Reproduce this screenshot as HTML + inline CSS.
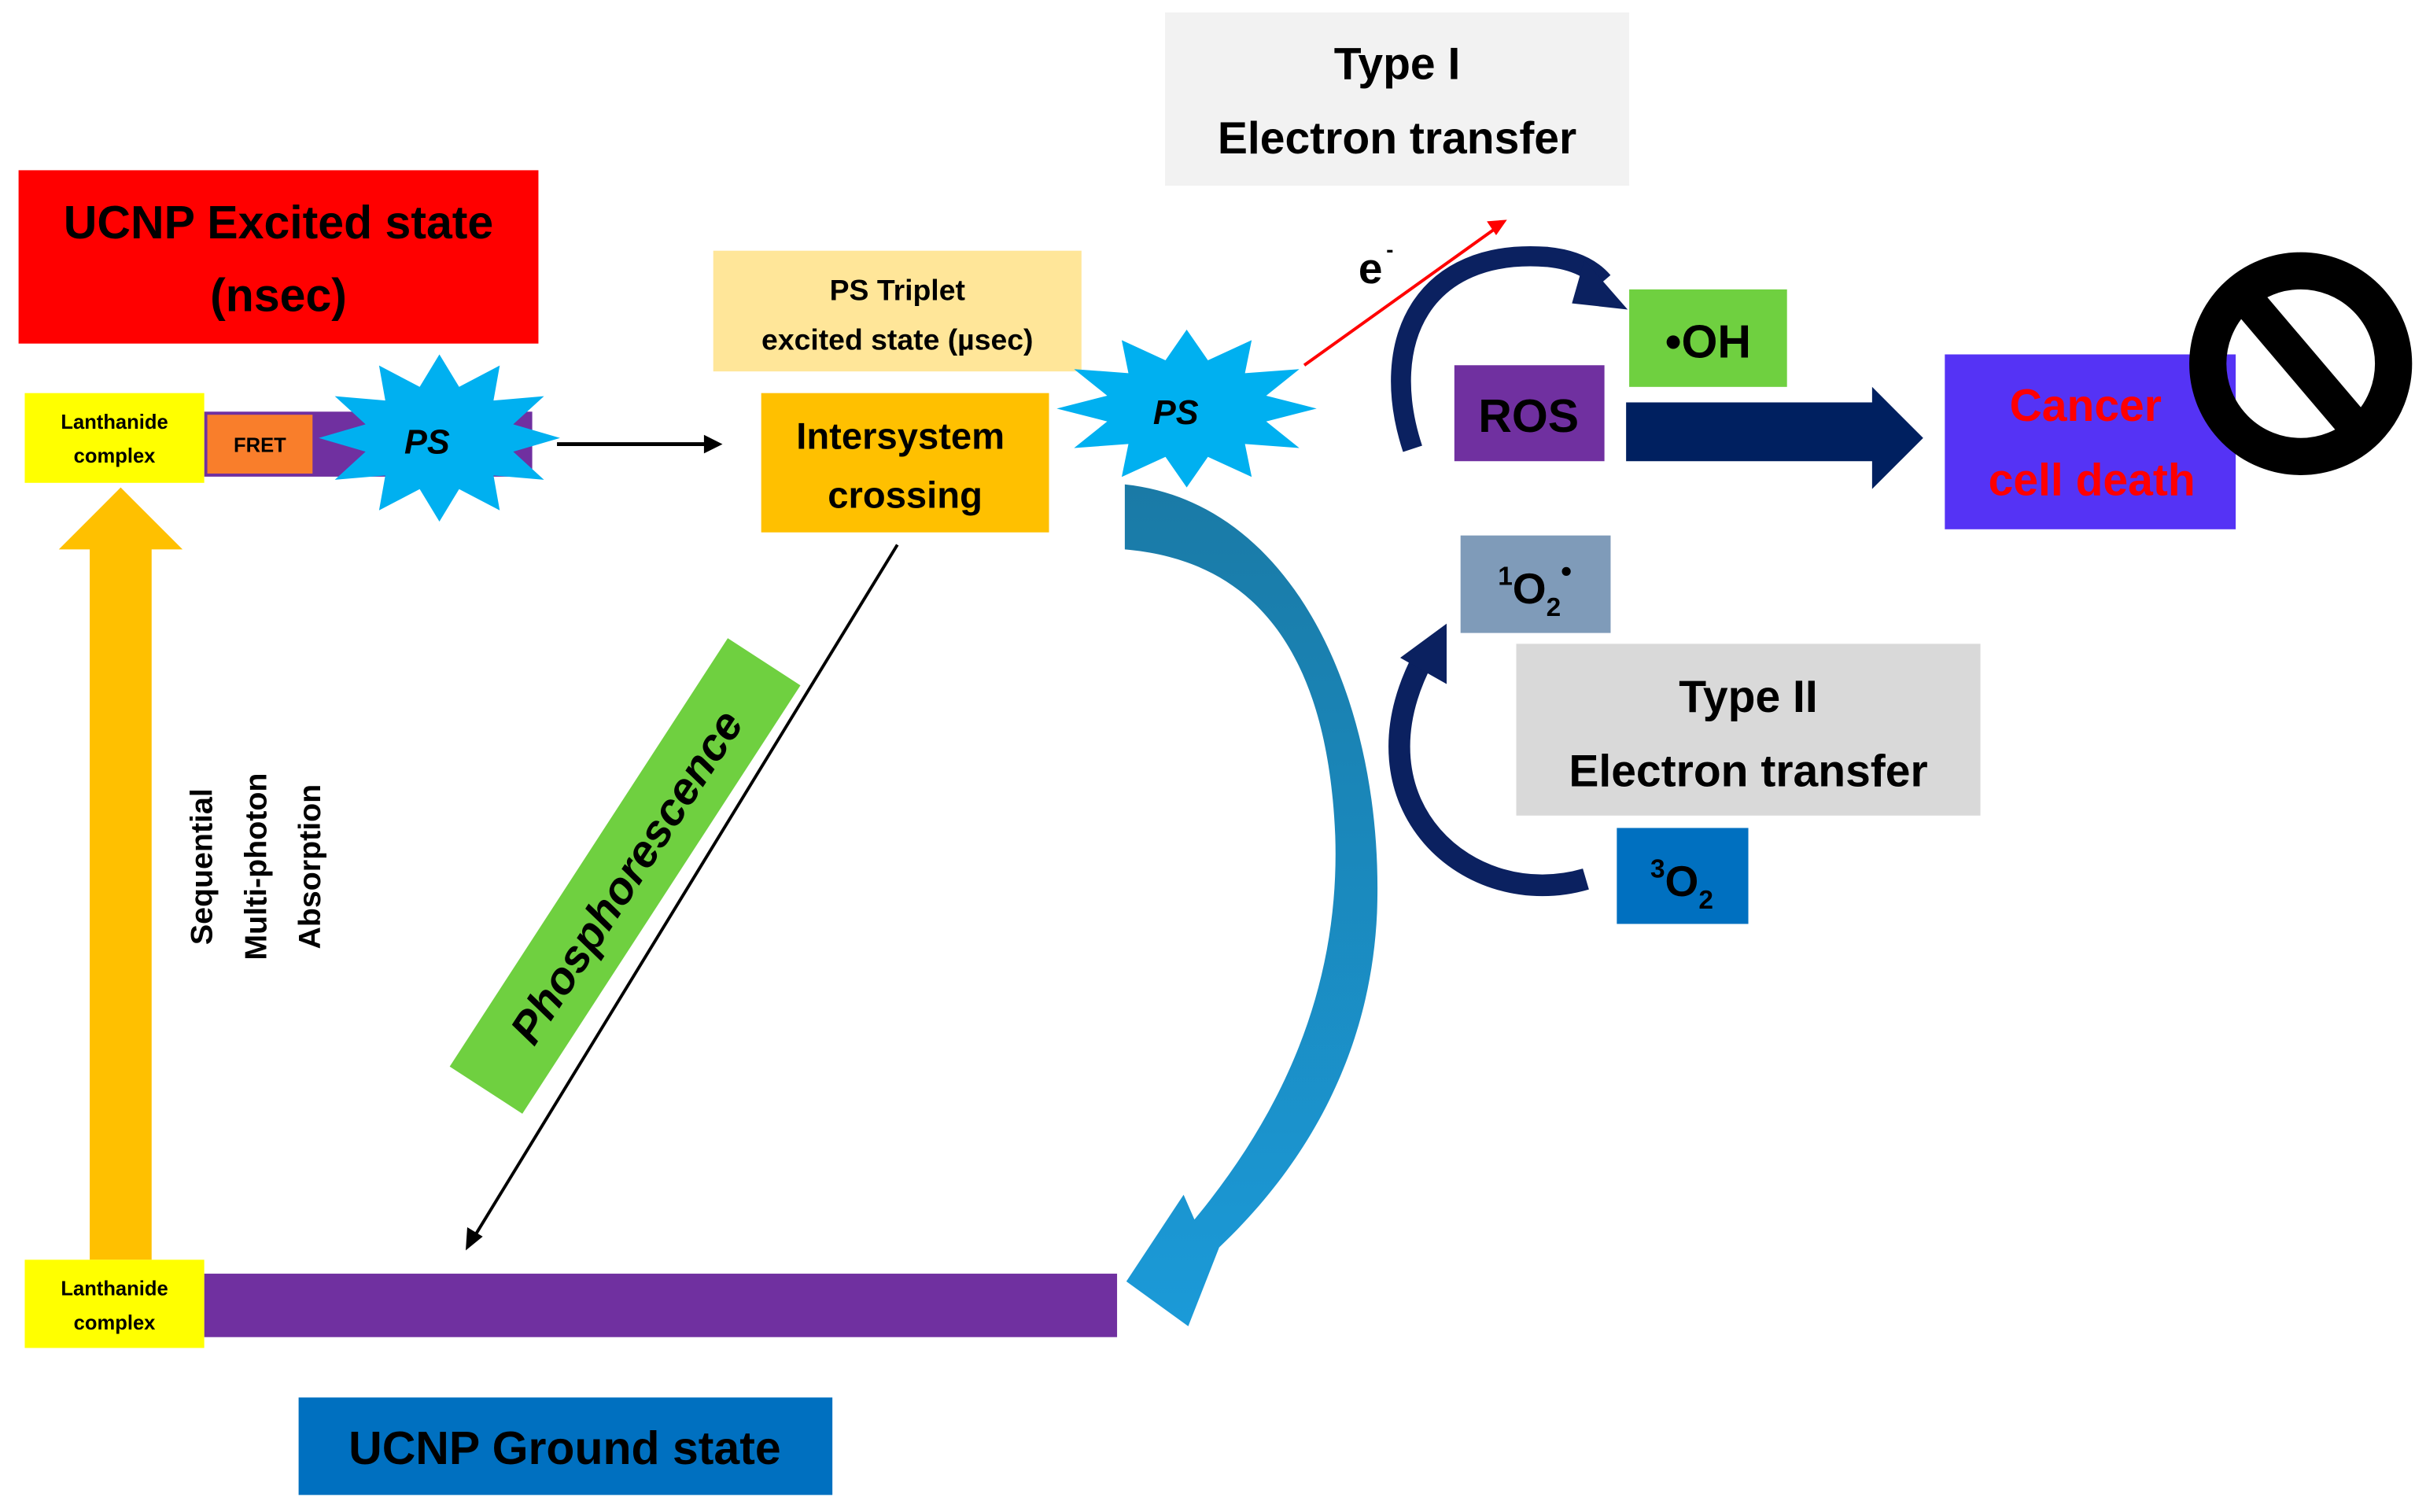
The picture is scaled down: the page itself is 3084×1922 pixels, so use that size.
<!DOCTYPE html>
<html><head><meta charset="utf-8"><style>
html,body{margin:0;padding:0;background:#fff;}
svg{display:block;}
text{font-family:"Liberation Sans",sans-serif;font-weight:bold;}
</style></head><body>
<svg width="3084" height="1922" viewBox="0 0 1568 977" preserveAspectRatio="none" xmlns="http://www.w3.org/2000/svg">
<defs>
<polygon id="star" points="60,0 36.7,9.8 52,30 26.9,26.9 30,52 9.8,36.7 0,60 -9.8,36.7 -30,52 -26.9,26.9 -52,30 -36.7,9.8 -60,0 -36.7,-9.8 -52,-30 -26.9,-26.9 -30,-52 -9.8,-36.7 0,-60 9.8,-36.7 30,-52 26.9,-26.9 52,-30 36.7,-9.8"/>
<linearGradient id="bg" x1="0" y1="0" x2="0" y2="1"><stop offset="0" stop-color="#1a7aa6"/><stop offset="1" stop-color="#1b9ad8"/></linearGradient>
</defs>
<rect width="1568" height="977" fill="#fff"/>

<rect x="12" y="110" width="336" height="112" fill="#ff0000"/>
<text x="180" y="154" font-size="30" text-anchor="middle">UCNP Excited state</text>
<text x="180" y="201" font-size="30" text-anchor="middle">(nsec)</text>

<rect x="132" y="266" width="212" height="42" fill="#7030a0"/>
<rect x="134" y="268" width="68" height="38" fill="#f97e2b"/>
<text x="168" y="292" font-size="13" text-anchor="middle" font-weight="normal">FRET</text>
<rect x="16" y="254" width="116" height="58" fill="#ffff00"/>
<text x="74" y="277" font-size="13" text-anchor="middle">Lanthanide</text>
<text x="74" y="299" font-size="13" text-anchor="middle">complex</text>
<use href="#star" transform="translate(284,283) scale(1.3,0.9)" fill="#00b0f0"/>
<text x="276" y="293" font-size="22" font-style="italic" text-anchor="middle">PS</text>

<line x1="360" y1="287" x2="458" y2="287" stroke="#000" stroke-width="2.5"/>
<polygon points="467,287 455,281 455,293" fill="#000"/>

<rect x="461" y="162" width="238" height="78" fill="#ffe699"/>
<text x="580" y="194" font-size="19" text-anchor="middle">PS Triplet</text>
<text x="580" y="226" font-size="19" text-anchor="middle">excited state (µsec)</text>
<rect x="492" y="254" width="186" height="90" fill="#ffc000"/>
<text x="582" y="290" font-size="24" text-anchor="middle">Intersystem</text>
<text x="585" y="328" font-size="24" text-anchor="middle">crossing</text>

<path d="M727,313 C840,325 895,460 890,590 C886,680 845,752 788,806 L768,857 L728,828 L765,772 L772,788 C835,712 866,630 863,540 C858,420 810,362 727,355 Z" fill="url(#bg)"/>

<use href="#star" transform="translate(767,264) scale(1.4,0.85)" fill="#00b0f0"/>
<text x="760" y="274" font-size="22" font-style="italic" text-anchor="middle">PS</text>

<line x1="843" y1="236" x2="966" y2="148" stroke="#ff0000" stroke-width="2"/>
<polygon points="974,142 961,143 967,152" fill="#ff0000"/>
<text x="878" y="183" font-size="28" font-weight="normal">e</text>
<text x="896" y="166" font-size="14">-</text>

<rect x="753" y="8" width="300" height="112" fill="#f2f2f2"/>
<text x="903" y="51" font-size="29" text-anchor="middle">Type I</text>
<text x="903" y="99" font-size="29" text-anchor="middle">Electron transfer</text>

<path d="M913,290 C890,220 920,160 1000,166 C1020,168 1030,175 1036,182" fill="none" stroke="#0b2160" stroke-width="13"/>
<polygon points="1024,168 1052,200 1016,196" fill="#0b2160"/>
<path d="M1025,568 C950,590 870,520 920,425" fill="none" stroke="#0b2160" stroke-width="14"/>
<polygon points="905,425 935,403 935,442" fill="#0b2160"/>

<rect x="1053" y="187" width="102" height="63" fill="#6fd040"/>
<text x="1104" y="231" font-size="30" text-anchor="middle">•OH</text>
<rect x="940" y="236" width="97" height="62" fill="#7030a0"/>
<text x="988" y="279" font-size="30" text-anchor="middle">ROS</text>

<polygon points="1051,260 1210,260 1210,250 1243,283 1210,316 1210,298 1051,298" fill="#002060"/>

<rect x="1257" y="229" width="188" height="113" fill="#5533f5"/>
<text x="1348" y="272" font-size="29" text-anchor="middle" fill="#ff0000">Cancer</text>
<text x="1352" y="320" font-size="29" text-anchor="middle" fill="#ff0000">cell death</text>
<ellipse cx="1487" cy="235" rx="60" ry="60" fill="none" stroke="#000" stroke-width="24"/>
<line x1="1445" y1="185" x2="1530" y2="285" stroke="#000" stroke-width="22"/>

<rect x="944" y="346" width="97" height="63" fill="#7f9bb9"/>
<text x="992" y="390" font-size="28" text-anchor="middle" font-weight="normal"><tspan font-size="17" dy="-12">1</tspan><tspan dy="12">O</tspan><tspan font-size="17" dy="8">2</tspan><tspan font-size="20" dy="-22">•</tspan></text>
<rect x="980" y="416" width="300" height="111" fill="#d9d9d9"/>
<text x="1130" y="460" font-size="29" text-anchor="middle">Type II</text>
<text x="1130" y="508" font-size="29" text-anchor="middle">Electron transfer</text>
<rect x="1045" y="535" width="85" height="62" fill="#0070c0"/>
<text x="1087" y="579" font-size="28" text-anchor="middle" font-weight="normal"><tspan font-size="17" dy="-12">3</tspan><tspan dy="12">O</tspan><tspan font-size="17" dy="8">2</tspan></text>

<g transform="translate(404,566) rotate(-57)">
<rect x="-165" y="-28" width="330" height="56" fill="#6fd040"/>
<text x="0" y="11" font-size="29" font-style="italic" text-anchor="middle">Phosphorescence</text>
</g>
<line x1="580" y1="352" x2="306" y2="800" stroke="#000" stroke-width="2"/>
<polygon points="301,808 302,793 312,799" fill="#000"/>

<rect x="58" y="354" width="40" height="460" fill="#ffc000"/>
<polygon points="78,315 38,355 118,355" fill="#ffc000"/>
<g transform="translate(165,560) rotate(-90)">
<text x="0" y="-28" font-size="20" text-anchor="middle">Sequential</text>
<text x="0" y="7" font-size="20" text-anchor="middle">Multi-photon</text>
<text x="0" y="42" font-size="20" text-anchor="middle">Absorption</text>
</g>

<rect x="132" y="823" width="590" height="41" fill="#7030a0"/>
<rect x="16" y="814" width="116" height="57" fill="#ffff00"/>
<text x="74" y="837" font-size="13" text-anchor="middle">Lanthanide</text>
<text x="74" y="859" font-size="13" text-anchor="middle">complex</text>

<rect x="193" y="903" width="345" height="63" fill="#0070c0"/>
<text x="365" y="946" font-size="30" text-anchor="middle">UCNP Ground state</text>
</svg>
</body></html>
